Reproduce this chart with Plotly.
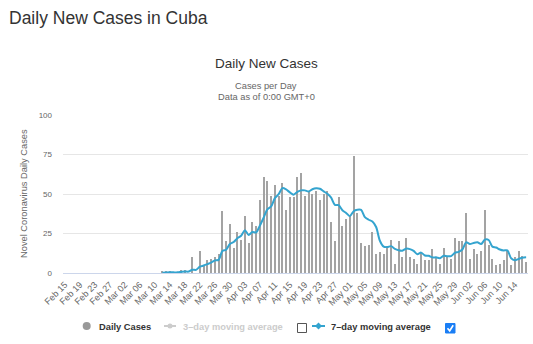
import pandas as pd
import plotly.graph_objects as go

# ---- data -------------------------------------------------------------
dates = pd.date_range("2020-02-15", "2020-06-17", freq="D")

# daily new cases, one list per month
cases_feb = [0, 0, 0, 0, 0, 0, 0, 0, 0, 0, 0, 0, 0, 0, 0]  # Feb 15-29
cases_mar = [0, 0, 0, 0, 0, 0, 0, 0, 0, 0,
             0, 1, 1, 1, 0, 0, 2, 2, 0, 10,
             0, 14, 5, 8, 9, 10, 12, 39, 20, 31,
             16]
cases_apr = [26, 21, 36, 19, 32, 30, 46, 61, 58, 49,
             56, 49, 57, 40, 48, 48, 61, 63, 49, 52,
             50, 52, 46, 50, 52, 32, 20, 48, 30, 34]
cases_may = [36, 74, 38, 19, 17, 18, 26, 12, 13, 12,
             17, 21, 6, 20, 10, 22, 10, 9, 6, 13,
             8, 8, 15, 10, 6, 16, 11, 9, 22, 20,
             20]
cases_jun = [38, 9, 15, 12, 14, 40, 18, 9, 5, 6,
             8, 14, 5, 10, 14, 11, 7]  # Jun 1-17

# 7-day moving average (starts Mar 12)
avg_mar = [0.1, 0.3, 0.4, 0.4, 0.4, 0.7, 1.0, 0.9, 2.1, 2.0,
           4.0, 4.7, 5.6, 6.6, 8.0, 8.3, 13.9, 14.7, 18.4, 19.6]
avg_apr = [22.0, 23.6, 27.0, 24.1, 25.9, 25.7, 30.0, 35.0, 40.3, 42.1,
           47.4, 49.9, 53.7, 52.9, 51.0, 49.6, 51.3, 52.3, 52.3, 51.6,
           53.0, 53.6, 53.3, 51.7, 50.1, 47.7, 43.1, 42.9, 39.7, 38.0]
avg_may = [36.0, 39.1, 40.0, 39.9, 35.4, 33.7, 32.6, 29.1, 20.4, 16.7,
           16.4, 17.0, 15.3, 14.4, 14.1, 15.4, 15.1, 14.0, 11.9, 12.9,
           11.1, 10.9, 9.9, 9.9, 9.4, 10.9, 10.6, 10.7, 12.7, 13.4,
           14.9]
avg_jun = [19.4, 18.4, 19.0, 19.4, 18.3, 21.1, 20.9, 16.7, 16.1, 14.9,
           14.3, 14.3, 9.3, 8.1, 8.9, 9.7, 9.9]

tick_labels = ["Feb 15", "Feb 19", "Feb 23", "Feb 27", "Mar 02", "Mar 06",
               "Mar 10", "Mar 14", "Mar 18", "Mar 22", "Mar 26", "Mar 30",
               "Apr 03", "Apr 07", "Apr 11", "Apr 15", "Apr 19", "Apr 23",
               "Apr 27", "May 01", "May 05", "May 09", "May 13", "May 17",
               "May 21", "May 25", "May 29", "Jun 02", "Jun 06", "Jun 10",
               "Jun 14"]
y_ticks = [0, 25, 50, 75, 100]

daily_cases = cases_feb + cases_mar + cases_apr + cases_may + cases_jun
avg_start = dates.get_loc(pd.Timestamp("2020-03-12"))
avg7 = [None] * avg_start + avg_mar + avg_apr + avg_may + avg_jun
tick_vals = list(dates[::4][:len(tick_labels)])

# ---- styling ----------------------------------------------------------
W, H = 533, 344
ML, MR, MT, MB = 63, 5, 115, 71
PW, PH = W - ML - MR, H - MT - MB
FONT = "Liberation Sans, Arial, sans-serif"
BAR = "#a3a3a3"
BLUE = "#34a4cf"
DAY = 86400000


def X(px):
    return (px - ML) / PW


def Y(py):
    return (H - MB - py) / PH


fig = go.Figure()
fig.add_trace(go.Bar(
    x=dates, y=daily_cases, name="Daily Cases",
    marker=dict(color=BAR, line=dict(width=0)),
    width=0.55 * DAY, showlegend=False,
))
fig.add_trace(go.Scatter(
    x=dates, y=avg7, name="7-day moving average", mode="lines",
    line=dict(color=BLUE, width=2, shape="spline", smoothing=0.8),
    showlegend=False,
))

annotations = [
    dict(text="Daily New Cases in Cuba", x=X(7), y=Y(17.5), xanchor="left",
         yanchor="middle", font=dict(size=17.5, color="#333333")),
    dict(text="Daily New Cases", x=X(266), y=Y(63.5), xanchor="center",
         yanchor="middle", font=dict(size=13.5, color="#333333")),
    dict(text="Cases per Day", x=X(266), y=Y(86.5), xanchor="center",
         yanchor="middle", font=dict(size=9.3, color="#666666")),
    dict(text="Data as of 0:00 GMT+0", x=X(266), y=Y(97), xanchor="center",
         yanchor="middle", font=dict(size=9.3, color="#666666")),
    dict(text="Novel Coronavirus Daily Cases", x=X(24), y=Y(194),
         xanchor="center", yanchor="middle", textangle=-90,
         font=dict(size=9.3, color="#666666")),
    # legend labels
    dict(text="<b>Daily Cases</b>", x=X(96.5), y=Y(326.5), xanchor="left",
         yanchor="middle", font=dict(size=9.3, color="#333333")),
    dict(text="<b>3–day moving average</b>", x=X(180.5), y=Y(326.5),
         xanchor="left", yanchor="middle", font=dict(size=9.3, color="#cccccc")),
    dict(text="<b>7–day moving average</b>", x=X(329), y=Y(326.5),
         xanchor="left", yanchor="middle", font=dict(size=9.3, color="#333333")),
]
for a in annotations:
    a.update(xref="paper", yref="paper", showarrow=False)

shapes = [
    # Daily Cases symbol
    dict(type="circle", x0=X(82.7), x1=X(90.7), y0=Y(330), y1=Y(322),
         fillcolor="#999999", line=dict(width=0)),
    # 3-day symbol (hidden series)
    dict(type="line", x0=X(164), x1=X(176), y0=Y(326), y1=Y(326),
         line=dict(color="#cccccc", width=2)),
    dict(type="circle", x0=X(167.5), x1=X(172.5), y0=Y(328.5), y1=Y(323.5),
         fillcolor="#cccccc", line=dict(width=0)),
    # unchecked box
    dict(type="rect", x0=X(297.5), x1=X(306.5), y0=Y(332.5), y1=Y(323.5),
         fillcolor="white", line=dict(color="#555555", width=1)),
    # 7-day symbol
    dict(type="line", x0=X(312), x1=X(325), y0=Y(326), y1=Y(326),
         line=dict(color=BLUE, width=2)),
    dict(type="path",
         path=f"M {X(318.5)} {Y(322.5)} L {X(322)} {Y(326)} L {X(318.5)} {Y(329.5)} L {X(315)} {Y(326)} Z",
         fillcolor=BLUE, line=dict(width=0)),
    # checked box
    dict(type="rect", x0=X(445.5), x1=X(455), y0=Y(333), y1=Y(323.5),
         fillcolor="#1a7ef5", line=dict(color="#1a7ef5", width=1)),
    dict(type="path",
         path=f"M {X(447.5)} {Y(328.3)} L {X(449.7)} {Y(330.8)} L {X(453.2)} {Y(325.3)}",
         line=dict(color="white", width=1.6)),
]
for s in shapes:
    s.update(xref="paper", yref="paper")

fig.update_layout(
    width=W, height=H,
    margin=dict(l=ML, r=MR, t=MT, b=MB, pad=0),
    paper_bgcolor="white", plot_bgcolor="white",
    font=dict(family=FONT, color="#666666"),
    bargap=0, showlegend=False,
    annotations=annotations, shapes=shapes,
    xaxis=dict(
        type="date",
        range=[dates[0] - pd.Timedelta(hours=12), dates[-1] + pd.Timedelta(hours=12)],
        tickvals=tick_vals, ticktext=tick_labels, tickangle=-45,
        tickfont=dict(size=9, color="#666666"),
        showgrid=False, zeroline=False,
        showline=True, linecolor="#ccd6eb", linewidth=1,
        ticks="", ticklabelstandoff=2,
        fixedrange=True,
    ),
    yaxis=dict(
        range=[0, 100], tickvals=y_ticks,
        tickfont=dict(size=8, color="#666666"),
        showgrid=True, gridcolor="#e6e6e6", gridwidth=1,
        zeroline=False, showline=False, ticks="", ticklabelstandoff=10,
        fixedrange=True,
    ),
)

fig.write_html("out.html", config={"displayModeBar": False})
